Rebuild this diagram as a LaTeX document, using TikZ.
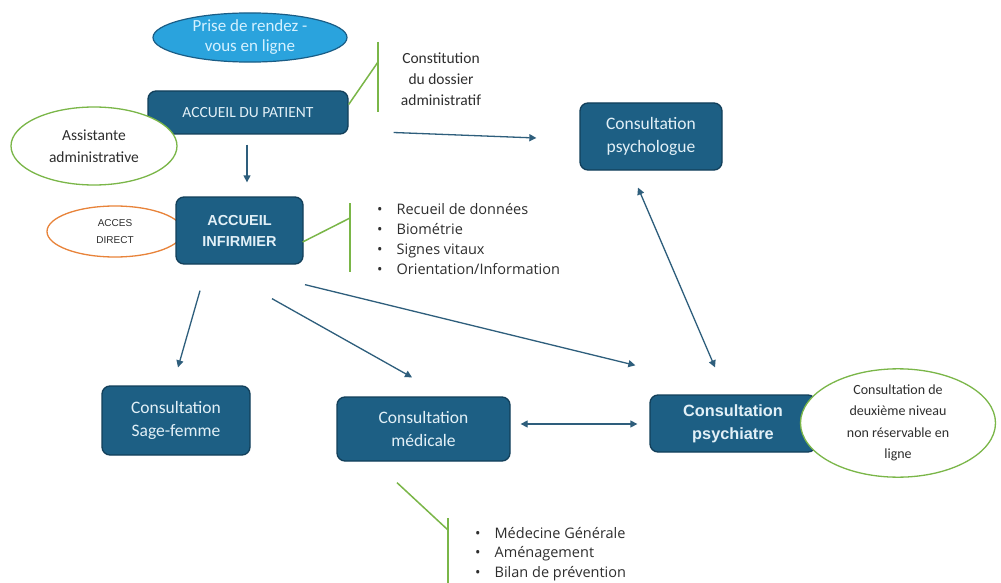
\documentclass[tikz,border=0pt]{standalone}
\usepackage{fontspec}
\setmainfont{Carlito}
\newfontfamily\arialf{Liberation Sans}
\newfontfamily\listf{Open Sans}
\usetikzlibrary{shapes.geometric,arrows.meta,calc}
\definecolor{boxfill}{HTML}{1D5F84}
\definecolor{boxedge}{HTML}{123F5A}
\definecolor{boxtext}{HTML}{E2F0F7}
\definecolor{arrowc}{HTML}{2E5E7C}
\definecolor{greenc}{HTML}{7AB648}
\definecolor{orangec}{HTML}{E8833A}
\definecolor{ellblue}{HTML}{2AA3DD}
\definecolor{elledge}{HTML}{1A5D86}
\definecolor{elltext}{HTML}{D4F1FF}
\definecolor{txt}{HTML}{2E2E2E}
\begin{document}
\begin{tikzpicture}[x=1pt,y=-1pt,
 box/.style={draw=boxedge, fill=boxfill, rounded corners=8pt, line width=1.3pt, text=boxtext, align=center, inner sep=0pt},
 oval/.style={ellipse, draw=greenc, fill=white, line width=1.3pt, align=center, inner sep=0pt, text=txt},
 conn/.style={draw=arrowc, line width=1.3pt, -{Triangle[length=7pt,width=7pt]}},
 dconn/.style={draw=arrowc, line width=1.3pt, {Triangle[length=7pt,width=7pt]}-{Triangle[length=7pt,width=7pt]}},
 brk/.style={draw=greenc, line width=1.5pt},
 lbl/.style={align=center, text=txt, inner sep=0pt},
 blist/.style={align=left, text=txt, inner sep=0pt, anchor=west}
]
\useasboundingbox[fill=white] (0,0) rectangle (1001,583);

% top ellipse
\node[ellipse, draw=elledge, fill=ellblue, line width=1.2pt, minimum width=194pt, minimum height=45pt,
  text=elltext, align=center, inner sep=0pt, font=\fontsize{17}{20}\selectfont] (rdv) at (250,37.5) {Prise de rendez -\\vous en ligne};

% boxes
\node[box, minimum width=200pt, minimum height=43pt, font=\fontsize{15.5}{18}\selectfont] (pat) at (248,112.5) {ACCUEIL DU PATIENT};
\node[box, minimum width=142pt, minimum height=67pt, font=\fontsize{17.5}{23}\selectfont] (psl) at (651,136.5) {Consultation\\psychologue};
\node[oval, draw=orangec, minimum width=136pt, minimum height=51pt, font=\arialf\fontsize{10}{17}\selectfont] (acc) at (115,231.5) {ACCES\\DIRECT};
\node[box, minimum width=127pt, minimum height=67pt, font=\arialf\bfseries\fontsize{14.5}{21}\selectfont] (inf) at (239.5,230.5) {ACCUEIL\\INFIRMIER};
\node[box, minimum width=148pt, minimum height=69pt, font=\fontsize{17.5}{23}\selectfont] (sf) at (176,420.5) {Consultation\\Sage-femme};
\node[box, minimum width=173pt, minimum height=64pt, font=\fontsize{17.5}{23}\selectfont] (med) at (423.5,429) {Consultation\\médicale};
\node[box, minimum width=166pt, minimum height=57pt, font=\arialf\bfseries\fontsize{16.3}{23}\selectfont] (psy) at (733,423.5) {Consultation\\psychiatre};

% ellipses with text
\node[oval, minimum width=166pt, minimum height=78pt, font=\fontsize{15.5}{22}\selectfont] (asst) at (94,146) {Assistante\\administrative};
\node[oval, minimum width=195pt, minimum height=89pt, font=\fontsize{14}{21.5}\selectfont] (niv) at (898,423) {Consultation de\\deuxième niveau\\non réservable en\\ligne};

% green brackets
\coordinate (b1t) at (378,42);
\coordinate (b1m) at (378,62);
\coordinate (b1b) at (378,112);
\draw[brk] ($(pat.east)+(0,-8)$) -- (b1m);
\draw[brk] (b1t) -- (b1b);
\node[lbl, font=\fontsize{15.5}{21}\selectfont] (cda) at (441,79) {Constitution\\du dossier\\administratif};

\coordinate (b2t) at (350,203);
\coordinate (b2m) at (350,218);
\coordinate (b2b) at (350,272);
\draw[brk] ($(inf.east)+(-1,11.5)$) -- (b2m);
\draw[brk] (b2t) -- (b2b);
\node[blist, font=\listf\fontsize{14.5}{19.7}\selectfont] (l1) at (377,239) {%
\textbullet\hspace{14pt}Recueil de données\\
\textbullet\hspace{14pt}Biométrie\\
\textbullet\hspace{14pt}Signes vitaux\\
\textbullet\hspace{14pt}Orientation/Information};

\coordinate (b3m) at (448,530);
\coordinate (b3t) at (448,518);
\coordinate (b3b) at (448,583);
\draw[brk] ($(med.south)+(-26.5,21)$) -- (b3m);
\draw[brk] (b3t) -- (b3b);
\node[blist, font=\listf\fontsize{14.5}{19.7}\selectfont] (l2) at (475,554) {%
\textbullet\hspace{14pt}Médecine Générale\\
\textbullet\hspace{14pt}Aménagement\\
\textbullet\hspace{14pt}Bilan de prévention};

% connectors
\draw[conn] ($(pat.south)+(-1,10)$) -- ($(inf.north)+(7.5,-14)$);
\draw[conn] ($(pat.east)+(45,20)$) -- ($(psl.west)+(-43,1.5)$);
\draw[conn] ($(inf.south)+(-39.5,26)$) -- ($(sf.north)+(2,-18)$);
\draw[conn] ($(inf.south)+(32.5,34)$) -- ($(med.north)+(-11.5,-19)$);
\draw[conn] ($(inf.south)+(65.5,20)$) -- ($(psy.north west)+(-14,-29)$);
\draw[dconn] ($(med.east)+(10,-5)$) -- ($(psy.west)+(-12,0.5)$);
\draw[dconn] ($(psl.south)+(-13,17)$) -- ($(psy.north)+(-18,-27)$);
\end{tikzpicture}
\end{document}
